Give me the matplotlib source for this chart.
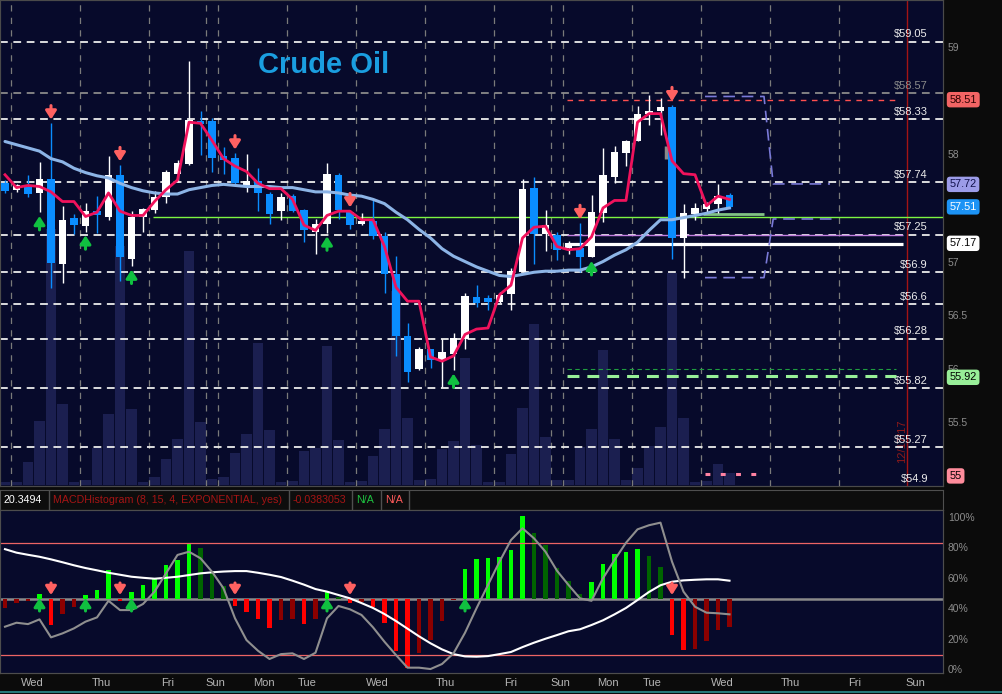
import matplotlib
matplotlib.use("Agg")
import matplotlib.pyplot as plt
import matplotlib.transforms as mtransforms
from matplotlib.lines import Line2D
import numpy as np

plt.rcParams['font.family'] = ['Liberation Sans', 'DejaVu Sans']

# ---- 4-hour crude oil bars ----
opens = [57.73, 57.67, 57.70, 57.64, 57.77, 56.98, 57.41, 57.33, 57.47, 57.42,
         57.81, 57.02, 57.42, 57.48, 57.60, 57.82, 57.91, 58.31, 58.31, 57.98,
         57.97, 57.70, 57.75, 57.63, 57.47, 57.61, 57.48, 57.28, 57.35, 57.81,
         57.46, 57.35, 57.38, 57.24, 56.88, 56.31, 56.00, 56.18, 56.08, 56.14,
         56.28, 56.67, 56.66, 56.62, 56.70, 56.90, 57.69, 57.26, 57.25, 57.13,
         57.13, 57.04, 57.45, 57.79, 58.01, 58.12, 58.38, 58.40, 58.44, 57.22,
         57.44, 57.49, 57.54, 57.62]
highs = [57.76, 57.72, 57.81, 57.93, 58.29, 57.52, 57.44, 57.55, 57.61, 57.98,
         57.90, 57.47, 57.50, 57.66, 57.85, 57.95, 58.87, 58.40, 58.34, 58.07,
         58.01, 58.00, 57.87, 57.65, 57.64, 57.63, 57.49, 57.40, 57.92, 57.83,
         57.47, 57.45, 57.57, 57.28, 57.05, 56.43, 56.20, 56.18, 56.28, 56.33,
         56.71, 56.78, 56.69, 56.72, 56.94, 57.77, 57.79, 57.48, 57.28, 57.19,
         57.36, 57.62, 58.06, 58.08, 58.13, 58.45, 58.55, 58.53, 58.46, 57.54,
         57.55, 57.56, 57.72, 57.64]
lows = [57.64, 57.65, 57.60, 57.46, 56.75, 56.80, 57.26, 57.28, 57.27, 57.39,
        56.82, 56.96, 57.28, 57.45, 57.55, 57.74, 57.90, 57.99, 57.84, 57.82,
        57.71, 57.65, 57.47, 57.35, 57.39, 57.46, 57.18, 57.07, 57.27, 57.40,
        57.30, 57.34, 57.21, 56.71, 56.12, 55.88, 55.99, 56.01, 55.83, 55.99,
        56.18, 56.58, 56.55, 56.61, 56.55, 56.90, 56.98, 57.10, 57.01, 57.07,
        56.90, 57.04, 57.37, 57.73, 57.89, 58.12, 58.27, 58.18, 57.02, 56.85,
        57.39, 57.46, 57.45, 57.49]
closes = [57.66, 57.71, 57.63, 57.77, 56.99, 57.39, 57.34, 57.47, 57.43, 57.81,
          57.04, 57.42, 57.49, 57.60, 57.84, 57.92, 58.32, 58.28, 57.97, 57.95,
          57.73, 57.75, 57.64, 57.44, 57.60, 57.47, 57.29, 57.35, 57.82, 57.48,
          57.34, 57.38, 57.24, 56.88, 56.31, 55.97, 56.18, 56.08, 56.16, 56.29,
          56.68, 56.61, 56.62, 56.69, 56.91, 57.68, 57.26, 57.34, 57.11, 57.17,
          57.04, 57.46, 57.81, 58.02, 58.12, 58.38, 58.40, 58.44, 57.22, 57.45,
          57.50, 57.54, 57.61, 57.51]
fast_ma = [57.81, 57.69, 57.71, 57.70, 57.65, 57.56, 57.56, 57.42, 57.46, 57.64,
           57.47, 57.43, 57.43, 57.56, 57.67, 57.76, 58.30, 58.29, 58.13, 57.96,
           57.89, 57.84, 57.73, 57.68, 57.68, 57.58, 57.34, 57.29, 57.43, 57.47,
           57.47, 57.39, 57.39, 57.14, 56.76, 56.63, 56.63, 56.11, 56.07, 56.12,
           56.32, 56.37, 56.38, 56.69, 56.78, 57.22, 57.32, 57.33, 57.14, 57.11,
           57.12, 57.23, 57.50, 57.57, 57.57, 58.30, 58.38, 58.38, 57.94, 57.82,
           57.81, 57.52, 57.61, 57.58]
slow_ma = [58.12, 58.09, 58.06, 58.03, 57.96, 57.93, 57.87, 57.83, 57.80, 57.78,
           57.73, 57.69, 57.66, 57.64, 57.63, 57.63, 57.67, 57.69, 57.71, 57.72,
           57.71, 57.70, 57.70, 57.70, 57.69, 57.69, 57.67, 57.65, 57.65, 57.64,
           57.62, 57.61, 57.58, 57.54, 57.46, 57.39, 57.30, 57.22, 57.12, 57.05,
           57.00, 56.95, 56.91, 56.87, 56.86, 56.88, 56.90, 56.91, 56.91, 56.92,
           56.92, 56.95, 57.00, 57.06, 57.11, 57.18, 57.29, 57.39, 57.39, 57.41,
           57.43, 57.45, 57.48, 57.50]
volume = [3, 3, 23, 64, 256, 81, 3, 5, 37, 71,
          239, 76, 3, 8, 26, 46, 234, 63, 6, 8,
          32, 51, 142, 55, 3, 4, 34, 37, 139, 45,
          3, 4, 29, 56, 194, 67, 5, 6, 36, 44,
          127, 40, 3, 3, 31, 77, 161, 48, 5, 5,
          38, 56, 135, 46, 5, 17, 39, 58, 212, 67,
          3, 4, 21, 12]
macd_hist = [-0.0129, -0.0051, -0.0032, 0.0069, -0.0360, -0.0207, -0.0106, 0.0055, 0.0124, 0.0401,
             -0.0028, 0.0093, 0.0194, 0.0290, 0.0470, 0.0539, 0.0761, 0.0705, 0.0387, 0.0180,
             -0.0093, -0.0176, -0.0277, -0.0397, -0.0290, -0.0277, -0.0346, -0.0277, 0.0115, 0.0028,
             -0.0051, -0.0048, -0.0115, -0.0328, -0.0715, -0.0950, -0.0743, -0.0567, -0.0304, -0.0014,
             0.0415, 0.0553, 0.0567, 0.0581, 0.0678, 0.1148, 0.0913, 0.0747, 0.0429, 0.0249,
             0.0069, 0.0235, 0.0484, 0.0622, 0.0650, 0.0692, 0.0595, 0.0443, -0.0498, -0.0705,
             -0.0692, -0.0581, -0.0429, -0.0383]
stoch_slow = [78.7, 76.4, 75.0, 73.7, 72.0, 70.1, 68.1, 66.3, 64.8, 63.2,
              61.9, 60.6, 59.9, 59.3, 59.9, 60.6, 61.7, 62.8, 63.5, 64.0,
              64.3, 64.3, 63.2, 61.9, 60.4, 58.0, 55.4, 52.5, 50.8, 48.6,
              46.4, 43.3, 40.1, 36.1, 31.5, 26.5, 21.5, 16.9, 12.9, 9.8,
              8.3, 8.1, 8.5, 9.8, 11.2, 14.4, 17.3, 19.9, 22.3, 24.8,
              26.1, 28.9, 32.0, 35.9, 40.1, 45.3, 50.6, 55.0, 57.3, 58.2,
              58.6, 58.9, 58.9, 58.0]
stoch_fast = [27.8, 30.4, 29.5, 32.6, 20.8, 23.4, 26.7, 31.1, 33.9, 44.8,
              38.7, 38.7, 42.7, 50.8, 62.8, 74.9, 77.0, 72.7, 63.9, 53.0,
              33.3, 19.0, 12.0, 6.6, 9.8, 10.3, 6.6, 10.7, 33.3, 41.4,
              39.2, 35.5, 27.4, 17.9, 9.2, 0.9, 0.9, 0.0, 3.3, 10.3,
              23.8, 39.9, 55.2, 70.5, 84.7, 92.4, 85.8, 77.0, 64.5, 55.2,
              46.4, 44.8, 59.6, 71.6, 82.9, 91.7, 94.4, 96.1, 70.5, 50.8,
              40.9, 37.0, 36.6, 35.9]

sell_bars = [4, 10, 20, 30, 50, 58]
buy_bars = [3, 7, 11, 28, 39, 51]
hist_sell_bars = [4, 10, 20, 30, 58]
hist_buy_bars = [3, 7, 11, 28, 40]

level_prices = [59.05, 58.57, 58.33, 57.74, 57.25, 56.9, 56.6, 56.28, 55.82, 55.27, 54.9]
faded_levels = [58.57]
price_ticks = [55.5, 56, 56.5, 57, 58, 59]
badge_prices = [58.51, 57.72, 57.51, 57.17, 55.92, 55.0]

day_bounds = [0.5, 6.5, 12.5, 17.5, 18.5, 24.5, 30.5, 36.5, 42.5, 47.5, 48.5, 54.5, 60.5, 66.5, 72.5]
day_labels = ['Wed', 'Thu', 'Fri', 'Sun', 'Mon', 'Tue', 'Wed', 'Thu',
              'Fri', 'Sun', 'Mon', 'Tue', 'Wed', 'Thu', 'Fri', 'Sun']
day_label_pos = [2.4, 8.35, 14.1, 18.3, 22.5, 26.3, 32.4, 38.3,
                 44.0, 48.3, 52.4, 56.3, 62.4, 68.3, 73.9, 79.2]

header_texts = ['20.3494', 'MACDHistogram (8, 15, 4, EXPONENTIAL, yes)', '-0.0383053', 'N/A', 'N/A']

# ---- figure layout (pixel based) ----
W, H = 1003, 694
BG = '#070a2b'
fig = plt.figure(figsize=(W / 100, H / 100), dpi=100, facecolor='#0b0b0b')


def px_axes(x0, y0, x1, y1):
    return fig.add_axes([x0 / W, 1 - y1 / H, (x1 - x0) / W, (y1 - y0) / H])


XLIM = (-0.435, 81.565)
idx = np.arange(len(opens))

# volume behind, price on a twin axis (right side ticks)
ax_vol = px_axes(0, 0, 943, 486)
ax_vol.set_facecolor(BG)
ax_vol.bar(idx, volume, width=0.93, color='#1b1f50', linewidth=0, zorder=1)
ax_vol.set_ylim(-1, 485)
ax_vol.set_xlim(*XLIM)
ax_vol.set_xticks([])
ax_vol.set_yticks([])

ax = ax_vol.twinx()
ax.set_ylim(54.906, 59.44)
ax.set_xlim(*XLIM)
for a in (ax_vol, ax):
    for s in a.spines.values():
        s.set_color('#4a4a4a')

tr = mtransforms.blended_transform_factory(ax.transAxes, ax.transData)

# day separators
for b in day_bounds:
    ax.axvline(b, color='#7a7a7a', lw=0.9, ls=(0, (5, 5)), zorder=1)
ax.axvline(78.45, color='#a31414', lw=1.0, zorder=1)
ax.text(78.0, 55.32, '12/17/17', rotation=90, color='#8e1a1a', fontsize=8,
        ha='center', va='center', zorder=1)

# price levels with $ labels
for lv in level_prices:
    c = '#8a8a8a' if lv in faded_levels else '#ececec'
    ax.axhline(lv, color=c, lw=1.3, ls=(0, (4.3, 3.1)), zorder=1)
    ax.annotate(f'${lv:g}', xy=(0.984, lv), xycoords=tr, xytext=(0, 3.2),
                textcoords='offset points', ha='right', va='baseline',
                color=c, fontsize=8, zorder=2)

# drawn study lines
ax.hlines(57.42, 12.87, XLIM[1], color='#7df542', lw=1.0, zorder=2)
ax.hlines(57.445, 60.7, 66.0, color='#8fd88f', lw=2.0, alpha=0.9, zorder=2)
ax.hlines(57.246, 48.9, 78.1, color='#c27fe0', lw=1.0, zorder=2)
ax.hlines(57.164, 48.9, 78.1, color='white', lw=2.3, zorder=2)
ax.hlines(58.51, 48.9, 77.7, color='#ff4f4f', lw=1.0, ls=(0, (4, 4)), zorder=2)
ax.plot([60.87, 66.0, 66.8, 71.74], [58.54, 58.54, 57.724, 57.724],
        color='#7a7ad8', lw=1.2, ls=(0, (7, 4)), zorder=2)
ax.plot([60.87, 66.0, 66.8, 71.9], [56.85, 56.85, 57.397, 57.397],
        color='#7a7ad8', lw=1.2, ls=(0, (7, 4)), zorder=2)
ax.hlines(55.998, 48.9, 77.5, color='#1f9e3f', lw=0.8, ls=(0, (4, 3)), zorder=2)
ax.hlines(55.93, 48.9, 77.5, color='#98f098', lw=2.2, ls=(0, (3.9, 2.6)), zorder=2)
ax.hlines(55.016, 60.9, 66.0, color='#ff82a2', lw=2.2, ls=(0, (1.6, 3.4)), zorder=2)
ax.vlines(57.5, 57.96, 58.08, color='#8a8a8a', lw=2.5, zorder=2)

# candles
o, h, l, c = map(np.array, (opens, highs, lows, closes))
col = np.where(c >= o, '#ffffff', '#0a8dff')
ax.vlines(idx, l, h, colors=col, lw=1.0, zorder=3)
ax.bar(idx, np.maximum(np.abs(c - o), 0.012), bottom=np.minimum(o, c),
       width=0.68, color=col, linewidth=0, zorder=4)

ax.plot(idx, slow_ma, color='#8cb4e6', lw=2.2, zorder=5, solid_capstyle='round')
ax.plot(idx, fast_ma, color='#f0125c', lw=2.0, zorder=6)

arrow_kw = dict(arrowstyle='-|>,head_length=0.5,head_width=0.32', lw=2.2,
                mutation_scale=10, shrinkA=0, shrinkB=0)
for i in sell_bars:
    ax.annotate('', xy=(i, highs[i] + 0.035), xytext=(i, highs[i] + 0.165),
                arrowprops=dict(color='#ff6161', **arrow_kw), zorder=7)
for i in buy_bars:
    ax.annotate('', xy=(i, lows[i] - 0.035), xytext=(i, lows[i] - 0.165),
                arrowprops=dict(color='#10c040', **arrow_kw), zorder=7)

ax.set_xticks([])
ax.set_yticks(price_ticks, [f'{p:g}' for p in price_ticks])
ax.tick_params(axis='y', colors='#8c8c8c', labelsize=7.5, length=0, pad=3.5)

badge_styles = [('#f26464', '#2a0000'), ('#9c9ce8', '#10104a'), ('#1c93f5', 'white'),
                ('white', 'black'), ('#98ee98', 'black'), ('#ff8c9c', 'black')]
for p, (fc, tc) in zip(badge_prices, badge_styles):
    ax.text(1.0069, p, f'{p:g}', transform=tr, ha='left', va='center', fontsize=7.8,
            color=tc, clip_on=False, zorder=10,
            bbox=dict(boxstyle='round,pad=0.25,rounding_size=0.3', fc=fc, ec='none'))

fig.text(258 / W, 1 - 65 / H, 'Crude Oil', fontsize=21, fontweight='bold',
         color='#1a9ee0', ha='left', va='center')

# ---- header strip of the lower study ----
hdr = px_axes(0, 490, 943, 510)
hdr.set_facecolor('#0d0d0d')
hdr.set_xlim(0, 943)
hdr.set_ylim(0, 1)
hdr.set_xticks([])
hdr.set_yticks([])
for s in hdr.spines.values():
    s.set_color('#4f4f4f')
box_edges = [0, 49, 289, 352, 381, 409]
hdr_colors = ['white', '#a51414', '#a51414', '#1ec040', '#ff5a5a']
for k, (txt, tc) in enumerate(zip(header_texts, hdr_colors)):
    hdr.text(box_edges[k] + 4, 0.5, txt, color=tc, fontsize=7.7, ha='left', va='center')
    hdr.axvline(box_edges[k + 1], color='#4f4f4f', lw=1)

# ---- lower study: MACD histogram + stochastic lines ----
ax_low = px_axes(0, 510, 943, 673)
ax_low.set_facecolor(BG)
hcol = []
for i, v in enumerate(macd_hist):
    prev = macd_hist[i - 1] if i else v
    if v >= 0:
        hcol.append('#00ff00' if v > prev else '#006400')
    else:
        hcol.append('#ff0000' if v < prev else '#8b0000')
ax_low.axhline(0, color='#8a8a8a', lw=1.8, zorder=1)
ax_low.bar(idx, macd_hist, width=0.36, color=hcol, linewidth=0, zorder=2)
ax_low.set_ylim(-0.1024, 0.1230)
ax_low.set_xlim(*XLIM)
ax_low.set_yticks([])
ax_low.set_xticks(day_label_pos, day_labels)
ax_low.tick_params(axis='x', colors='#b5b5b5', labelsize=8, length=0, pad=3.5)

ax_pct = ax_low.twinx()
ax_pct.set_ylim(-2.6, 104.4)
ax_pct.set_xlim(*XLIM)
ax_pct.axhline(82.5, color='#ec6464', lw=0.9, zorder=1)
ax_pct.axhline(9.2, color='#ec6464', lw=0.9, zorder=1)
ax_pct.plot(idx, stoch_slow, color='white', lw=1.5, zorder=3)
ax_pct.plot(idx, stoch_fast, color='#8f8f8f', lw=1.5, zorder=3)
for i in hist_sell_bars:
    ax_pct.annotate('', xy=(i, 48.6), xytext=(i, 56.5),
                    arrowprops=dict(color='#ff6161', **arrow_kw), zorder=7)
for i in hist_buy_bars:
    ax_pct.annotate('', xy=(i, 46.6), xytext=(i, 38.1),
                    arrowprops=dict(color='#10c040', **arrow_kw), zorder=7)
ax_pct.set_yticks([0, 20, 40, 60, 80, 100], ['0%', '20%', '40%', '60%', '80%', '100%'])
ax_pct.tick_params(axis='y', colors='#8c8c8c', labelsize=7.5, length=0, pad=3.5)
for a in (ax_low, ax_pct):
    for s in a.spines.values():
        s.set_color('#4d4d4d')

fig.add_artist(Line2D([0, 1], [1 - 692 / H] * 2, color='#2a8f8f', lw=1.2))

fig.savefig('out.png', dpi=100, facecolor=fig.get_facecolor())
